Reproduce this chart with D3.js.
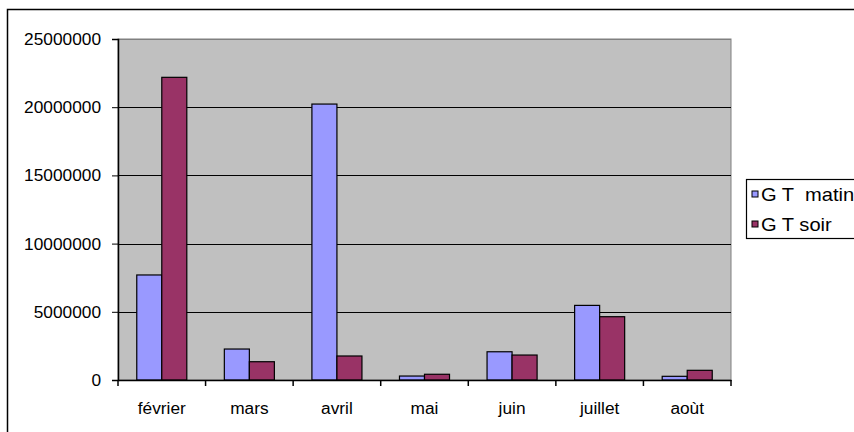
<!DOCTYPE html>
<html><head><meta charset="utf-8">
<script src="https://cdn.jsdelivr.net/npm/d3@7/dist/d3.min.js"></script>
<style>body{margin:0;background:#fff}svg{display:block}text{font-family:"Liberation Sans",Arial,sans-serif;fill:#000}</style>
</head><body>
<script>
const categories = ["février","mars","avril","mai","juin","juillet","aoùt"];
const seriesNames = ["G T  matin","G T soir"];
const matin = [7700000,2270000,20230000,290000,2070000,5470000,270000];
const soir  = [22190000,1340000,1760000,420000,1830000,4640000,710000];
const yTicks = [0,5000000,10000000,15000000,20000000,25000000];
const colors = ["#9999FF","#993366"];

const W=854,H=432;
const svg=d3.select("body").append("svg").attr("width",W).attr("height",H);
// outer chart border
svg.append("rect").attr("x",7.5).attr("y",9.5).attr("width",900).attr("height",500)
  .attr("fill","none").attr("stroke","#000").attr("stroke-width",1.5);

const L=118,R=731,T=39,B=380;
const x=d3.scaleBand().domain(categories).range([L,R]).paddingInner(0).paddingOuter(0);
const y=d3.scaleLinear().domain([0,25000000]).range([B,T]);
const bw=x.bandwidth()/3.5;
const xs=d3.scaleBand().domain([0,1]).range([0,2*bw]);

// plot area
svg.append("rect").attr("x",L).attr("y",T).attr("width",R-L).attr("height",B-T)
  .attr("fill","#C0C0C0").attr("stroke","#808080").attr("stroke-width",1);

// gridlines
svg.append("g").selectAll("line").data(yTicks.filter(d=>d>0)).join("line")
  .attr("x1",L).attr("x2",R).attr("y1",d=>Math.round(y(d))+0.5).attr("y2",d=>Math.round(y(d))+0.5)
  .attr("stroke",d=>d===25000000?"#808080":"#000").attr("stroke-width",1);

// bars
const series=[matin,soir];
series.forEach((vals,si)=>{
  svg.append("g").selectAll("rect").data(vals).join("rect")
    .attr("x",(d,i)=>x(categories[i])+x.bandwidth()/2-bw+xs(si))
    .attr("y",d=>y(d)).attr("width",bw).attr("height",d=>y(0)-y(d))
    .attr("fill",colors[si]).attr("stroke","#000").attr("stroke-width",1.2);
});

// y axis
const ya=svg.append("g").attr("transform",`translate(${L},0)`)
  .call(d3.axisLeft(y).tickValues(yTicks).tickFormat(d3.format("d")).tickSize(6).tickPadding(11));
ya.select(".domain").attr("stroke","#000").attr("stroke-width",1.5);
ya.selectAll("text").attr("font-size",17.3).attr("font-family","Liberation Sans, Arial, sans-serif");

// x axis
const xa=svg.append("g").attr("transform",`translate(0,${B})`)
  .call(d3.axisBottom(x).tickSize(0).tickPadding(22));
xa.select(".domain").attr("stroke","#000").attr("stroke-width",1.5);
xa.selectAll("text").attr("font-size",17.3).attr("font-family","Liberation Sans, Arial, sans-serif");
// category boundary ticks
svg.append("g").selectAll("line").data(d3.range(categories.length+1)).join("line")
  .attr("x1",i=>L+i*x.bandwidth()).attr("x2",i=>L+i*x.bandwidth())
  .attr("y1",B).attr("y2",B+6).attr("stroke","#000").attr("stroke-width",1.5);

// legend
const lg=svg.append("g");
lg.append("rect").attr("x",746.5).attr("y",179.5).attr("width",200).attr("height",59)
  .attr("fill","#fff").attr("stroke","#000").attr("stroke-width",1.2);
seriesNames.forEach((n,i)=>{
  const cy=194+i*30;
  lg.append("rect").attr("x",752).attr("y",cy-3).attr("width",6).attr("height",6)
    .attr("fill",colors[i]).attr("stroke","#000").attr("stroke-width",1);
  lg.append("text").attr("transform",`translate(761,${cy+7}) scale(1.15,1)`)
    .attr("font-size",17.5).attr("xml:space","preserve").style("white-space","pre").text(n);
});
</script>
</body></html>
